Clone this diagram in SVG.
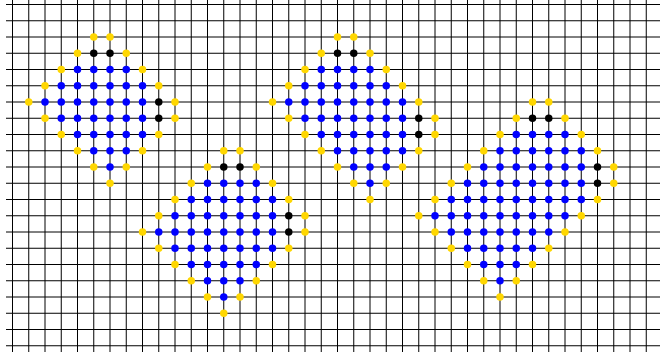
<svg xmlns="http://www.w3.org/2000/svg" width="660" height="357" viewBox="0 0 660 357">
<style>
.grid{fill:none;stroke:#000;stroke-width:1}
.y{fill:#FFD700}
.b{fill:#0000FF}
.k{fill:#000000}
</style>
<rect width="660" height="357" fill="#fff"/>
<g id="grid">
<path class="grid" d="M12.5 -2V352M28.75 -2V352M45 -2V352M61.25 -2V352M77.5 -2V352M93.75 -2V352M110 -2V352M126.25 -2V352M142.5 -2V352M158.75 -2V352M175 -2V352M191.25 -2V352M207.5 -2V352M223.75 -2V352M240 -2V352M256.25 -2V352M272.5 -2V352M288.75 -2V352M305 -2V352M321.25 -2V352M337.5 -2V352M353.75 -2V352M370 -2V352M386.25 -2V352M402.5 -2V352M418.75 -2V352M435 -2V352M451.25 -2V352M467.5 -2V352M483.75 -2V352M500 -2V352M516.25 -2V352M532.5 -2V352M548.75 -2V352M565 -2V352M581.25 -2V352M597.5 -2V352M613.75 -2V352M630 -2V352M646.25 -2V352"/>
<path class="grid" d="M6 4.5H660M6 20.75H660M6 37H660M6 53.25H660M6 69.5H660M6 85.75H660M6 102H660M6 118.25H660M6 134.5H660M6 150.75H660M6 167H660M6 183.25H660M6 199.5H660M6 215.75H660M6 232H660M6 248.25H660M6 264.5H660M6 280.75H660M6 297H660M6 313.25H660M6 329.5H660M6 345.75H660"/>
</g>
<g id="cluster1">
<circle class="y" cx="93.75" cy="37" r="3.75"/><circle class="y" cx="110" cy="37" r="3.75"/>
<circle class="y" cx="77.5" cy="53.25" r="3.75"/><circle class="k" cx="93.75" cy="53.25" r="3.75"/><circle class="k" cx="110" cy="53.25" r="3.75"/><circle class="y" cx="126.25" cy="53.25" r="3.75"/>
<circle class="y" cx="61.25" cy="69.5" r="3.75"/><circle class="b" cx="77.5" cy="69.5" r="3.75"/><circle class="b" cx="93.75" cy="69.5" r="3.75"/><circle class="b" cx="110" cy="69.5" r="3.75"/><circle class="b" cx="126.25" cy="69.5" r="3.75"/><circle class="y" cx="142.5" cy="69.5" r="3.75"/>
<circle class="y" cx="45" cy="85.75" r="3.75"/><circle class="b" cx="61.25" cy="85.75" r="3.75"/><circle class="b" cx="77.5" cy="85.75" r="3.75"/><circle class="b" cx="93.75" cy="85.75" r="3.75"/><circle class="b" cx="110" cy="85.75" r="3.75"/><circle class="b" cx="126.25" cy="85.75" r="3.75"/><circle class="b" cx="142.5" cy="85.75" r="3.75"/><circle class="y" cx="158.75" cy="85.75" r="3.75"/>
<circle class="y" cx="28.75" cy="102" r="3.75"/><circle class="b" cx="45" cy="102" r="3.75"/><circle class="b" cx="61.25" cy="102" r="3.75"/><circle class="b" cx="77.5" cy="102" r="3.75"/><circle class="b" cx="93.75" cy="102" r="3.75"/><circle class="b" cx="110" cy="102" r="3.75"/><circle class="b" cx="126.25" cy="102" r="3.75"/><circle class="b" cx="142.5" cy="102" r="3.75"/><circle class="k" cx="158.75" cy="102" r="3.75"/><circle class="y" cx="175" cy="102" r="3.75"/>
<circle class="y" cx="45" cy="118.25" r="3.75"/><circle class="b" cx="61.25" cy="118.25" r="3.75"/><circle class="b" cx="77.5" cy="118.25" r="3.75"/><circle class="b" cx="93.75" cy="118.25" r="3.75"/><circle class="b" cx="110" cy="118.25" r="3.75"/><circle class="b" cx="126.25" cy="118.25" r="3.75"/><circle class="b" cx="142.5" cy="118.25" r="3.75"/><circle class="k" cx="158.75" cy="118.25" r="3.75"/><circle class="y" cx="175" cy="118.25" r="3.75"/>
<circle class="y" cx="61.25" cy="134.5" r="3.75"/><circle class="b" cx="77.5" cy="134.5" r="3.75"/><circle class="b" cx="93.75" cy="134.5" r="3.75"/><circle class="b" cx="110" cy="134.5" r="3.75"/><circle class="b" cx="126.25" cy="134.5" r="3.75"/><circle class="b" cx="142.5" cy="134.5" r="3.75"/><circle class="y" cx="158.75" cy="134.5" r="3.75"/>
<circle class="y" cx="77.5" cy="150.75" r="3.75"/><circle class="b" cx="93.75" cy="150.75" r="3.75"/><circle class="b" cx="110" cy="150.75" r="3.75"/><circle class="b" cx="126.25" cy="150.75" r="3.75"/><circle class="y" cx="142.5" cy="150.75" r="3.75"/>
<circle class="y" cx="93.75" cy="167" r="3.75"/><circle class="b" cx="110" cy="167" r="3.75"/><circle class="y" cx="126.25" cy="167" r="3.75"/>
<circle class="y" cx="110" cy="183.25" r="3.75"/>
</g>
<g id="cluster2">
<circle class="y" cx="223.75" cy="150.75" r="3.75"/><circle class="y" cx="240" cy="150.75" r="3.75"/>
<circle class="y" cx="207.5" cy="167" r="3.75"/><circle class="k" cx="223.75" cy="167" r="3.75"/><circle class="k" cx="240" cy="167" r="3.75"/><circle class="y" cx="256.25" cy="167" r="3.75"/>
<circle class="y" cx="191.25" cy="183.25" r="3.75"/><circle class="b" cx="207.5" cy="183.25" r="3.75"/><circle class="b" cx="223.75" cy="183.25" r="3.75"/><circle class="b" cx="240" cy="183.25" r="3.75"/><circle class="b" cx="256.25" cy="183.25" r="3.75"/><circle class="y" cx="272.5" cy="183.25" r="3.75"/>
<circle class="y" cx="175" cy="199.5" r="3.75"/><circle class="b" cx="191.25" cy="199.5" r="3.75"/><circle class="b" cx="207.5" cy="199.5" r="3.75"/><circle class="b" cx="223.75" cy="199.5" r="3.75"/><circle class="b" cx="240" cy="199.5" r="3.75"/><circle class="b" cx="256.25" cy="199.5" r="3.75"/><circle class="b" cx="272.5" cy="199.5" r="3.75"/><circle class="y" cx="288.75" cy="199.5" r="3.75"/>
<circle class="y" cx="158.75" cy="215.75" r="3.75"/><circle class="b" cx="175" cy="215.75" r="3.75"/><circle class="b" cx="191.25" cy="215.75" r="3.75"/><circle class="b" cx="207.5" cy="215.75" r="3.75"/><circle class="b" cx="223.75" cy="215.75" r="3.75"/><circle class="b" cx="240" cy="215.75" r="3.75"/><circle class="b" cx="256.25" cy="215.75" r="3.75"/><circle class="b" cx="272.5" cy="215.75" r="3.75"/><circle class="k" cx="288.75" cy="215.75" r="3.75"/><circle class="y" cx="305" cy="215.75" r="3.75"/>
<circle class="y" cx="142.5" cy="232" r="3.75"/><circle class="b" cx="158.75" cy="232" r="3.75"/><circle class="b" cx="175" cy="232" r="3.75"/><circle class="b" cx="191.25" cy="232" r="3.75"/><circle class="b" cx="207.5" cy="232" r="3.75"/><circle class="b" cx="223.75" cy="232" r="3.75"/><circle class="b" cx="240" cy="232" r="3.75"/><circle class="b" cx="256.25" cy="232" r="3.75"/><circle class="b" cx="272.5" cy="232" r="3.75"/><circle class="k" cx="288.75" cy="232" r="3.75"/><circle class="y" cx="305" cy="232" r="3.75"/>
<circle class="y" cx="158.75" cy="248.25" r="3.75"/><circle class="b" cx="175" cy="248.25" r="3.75"/><circle class="b" cx="191.25" cy="248.25" r="3.75"/><circle class="b" cx="207.5" cy="248.25" r="3.75"/><circle class="b" cx="223.75" cy="248.25" r="3.75"/><circle class="b" cx="240" cy="248.25" r="3.75"/><circle class="b" cx="256.25" cy="248.25" r="3.75"/><circle class="b" cx="272.5" cy="248.25" r="3.75"/><circle class="y" cx="288.75" cy="248.25" r="3.75"/>
<circle class="y" cx="175" cy="264.5" r="3.75"/><circle class="b" cx="191.25" cy="264.5" r="3.75"/><circle class="b" cx="207.5" cy="264.5" r="3.75"/><circle class="b" cx="223.75" cy="264.5" r="3.75"/><circle class="b" cx="240" cy="264.5" r="3.75"/><circle class="b" cx="256.25" cy="264.5" r="3.75"/><circle class="y" cx="272.5" cy="264.5" r="3.75"/>
<circle class="y" cx="191.25" cy="280.75" r="3.75"/><circle class="b" cx="207.5" cy="280.75" r="3.75"/><circle class="b" cx="223.75" cy="280.75" r="3.75"/><circle class="b" cx="240" cy="280.75" r="3.75"/><circle class="y" cx="256.25" cy="280.75" r="3.75"/>
<circle class="y" cx="207.5" cy="297" r="3.75"/><circle class="b" cx="223.75" cy="297" r="3.75"/><circle class="y" cx="240" cy="297" r="3.75"/>
<circle class="y" cx="223.75" cy="313.25" r="3.75"/>
</g>
<g id="cluster3">
<circle class="y" cx="337.5" cy="37" r="3.75"/><circle class="y" cx="353.75" cy="37" r="3.75"/>
<circle class="y" cx="321.25" cy="53.25" r="3.75"/><circle class="k" cx="337.5" cy="53.25" r="3.75"/><circle class="k" cx="353.75" cy="53.25" r="3.75"/><circle class="y" cx="370" cy="53.25" r="3.75"/>
<circle class="y" cx="305" cy="69.5" r="3.75"/><circle class="b" cx="321.25" cy="69.5" r="3.75"/><circle class="b" cx="337.5" cy="69.5" r="3.75"/><circle class="b" cx="353.75" cy="69.5" r="3.75"/><circle class="b" cx="370" cy="69.5" r="3.75"/><circle class="y" cx="386.25" cy="69.5" r="3.75"/>
<circle class="y" cx="288.75" cy="85.75" r="3.75"/><circle class="b" cx="305" cy="85.75" r="3.75"/><circle class="b" cx="321.25" cy="85.75" r="3.75"/><circle class="b" cx="337.5" cy="85.75" r="3.75"/><circle class="b" cx="353.75" cy="85.75" r="3.75"/><circle class="b" cx="370" cy="85.75" r="3.75"/><circle class="b" cx="386.25" cy="85.75" r="3.75"/><circle class="y" cx="402.5" cy="85.75" r="3.75"/>
<circle class="y" cx="272.5" cy="102" r="3.75"/><circle class="b" cx="288.75" cy="102" r="3.75"/><circle class="b" cx="305" cy="102" r="3.75"/><circle class="b" cx="321.25" cy="102" r="3.75"/><circle class="b" cx="337.5" cy="102" r="3.75"/><circle class="b" cx="353.75" cy="102" r="3.75"/><circle class="b" cx="370" cy="102" r="3.75"/><circle class="b" cx="386.25" cy="102" r="3.75"/><circle class="b" cx="402.5" cy="102" r="3.75"/><circle class="y" cx="418.75" cy="102" r="3.75"/>
<circle class="y" cx="288.75" cy="118.25" r="3.75"/><circle class="b" cx="305" cy="118.25" r="3.75"/><circle class="b" cx="321.25" cy="118.25" r="3.75"/><circle class="b" cx="337.5" cy="118.25" r="3.75"/><circle class="b" cx="353.75" cy="118.25" r="3.75"/><circle class="b" cx="370" cy="118.25" r="3.75"/><circle class="b" cx="386.25" cy="118.25" r="3.75"/><circle class="b" cx="402.5" cy="118.25" r="3.75"/><circle class="k" cx="418.75" cy="118.25" r="3.75"/><circle class="y" cx="435" cy="118.25" r="3.75"/>
<circle class="y" cx="305" cy="134.5" r="3.75"/><circle class="b" cx="321.25" cy="134.5" r="3.75"/><circle class="b" cx="337.5" cy="134.5" r="3.75"/><circle class="b" cx="353.75" cy="134.5" r="3.75"/><circle class="b" cx="370" cy="134.5" r="3.75"/><circle class="b" cx="386.25" cy="134.5" r="3.75"/><circle class="b" cx="402.5" cy="134.5" r="3.75"/><circle class="k" cx="418.75" cy="134.5" r="3.75"/><circle class="y" cx="435" cy="134.5" r="3.75"/>
<circle class="y" cx="321.25" cy="150.75" r="3.75"/><circle class="b" cx="337.5" cy="150.75" r="3.75"/><circle class="b" cx="353.75" cy="150.75" r="3.75"/><circle class="b" cx="370" cy="150.75" r="3.75"/><circle class="b" cx="386.25" cy="150.75" r="3.75"/><circle class="b" cx="402.5" cy="150.75" r="3.75"/><circle class="y" cx="418.75" cy="150.75" r="3.75"/>
<circle class="y" cx="337.5" cy="167" r="3.75"/><circle class="b" cx="353.75" cy="167" r="3.75"/><circle class="b" cx="370" cy="167" r="3.75"/><circle class="b" cx="386.25" cy="167" r="3.75"/><circle class="y" cx="402.5" cy="167" r="3.75"/>
<circle class="y" cx="353.75" cy="183.25" r="3.75"/><circle class="b" cx="370" cy="183.25" r="3.75"/><circle class="y" cx="386.25" cy="183.25" r="3.75"/>
<circle class="y" cx="370" cy="199.5" r="3.75"/>
</g>
<g id="cluster4">
<circle class="y" cx="532.5" cy="102" r="3.75"/><circle class="y" cx="548.75" cy="102" r="3.75"/>
<circle class="y" cx="516.25" cy="118.25" r="3.75"/><circle class="k" cx="532.5" cy="118.25" r="3.75"/><circle class="k" cx="548.75" cy="118.25" r="3.75"/><circle class="y" cx="565" cy="118.25" r="3.75"/>
<circle class="y" cx="500" cy="134.5" r="3.75"/><circle class="b" cx="516.25" cy="134.5" r="3.75"/><circle class="b" cx="532.5" cy="134.5" r="3.75"/><circle class="b" cx="548.75" cy="134.5" r="3.75"/><circle class="b" cx="565" cy="134.5" r="3.75"/><circle class="y" cx="581.25" cy="134.5" r="3.75"/>
<circle class="y" cx="483.75" cy="150.75" r="3.75"/><circle class="b" cx="500" cy="150.75" r="3.75"/><circle class="b" cx="516.25" cy="150.75" r="3.75"/><circle class="b" cx="532.5" cy="150.75" r="3.75"/><circle class="b" cx="548.75" cy="150.75" r="3.75"/><circle class="b" cx="565" cy="150.75" r="3.75"/><circle class="b" cx="581.25" cy="150.75" r="3.75"/><circle class="y" cx="597.5" cy="150.75" r="3.75"/>
<circle class="y" cx="467.5" cy="167" r="3.75"/><circle class="b" cx="483.75" cy="167" r="3.75"/><circle class="b" cx="500" cy="167" r="3.75"/><circle class="b" cx="516.25" cy="167" r="3.75"/><circle class="b" cx="532.5" cy="167" r="3.75"/><circle class="b" cx="548.75" cy="167" r="3.75"/><circle class="b" cx="565" cy="167" r="3.75"/><circle class="b" cx="581.25" cy="167" r="3.75"/><circle class="k" cx="597.5" cy="167" r="3.75"/><circle class="y" cx="613.75" cy="167" r="3.75"/>
<circle class="y" cx="451.25" cy="183.25" r="3.75"/><circle class="b" cx="467.5" cy="183.25" r="3.75"/><circle class="b" cx="483.75" cy="183.25" r="3.75"/><circle class="b" cx="500" cy="183.25" r="3.75"/><circle class="b" cx="516.25" cy="183.25" r="3.75"/><circle class="b" cx="532.5" cy="183.25" r="3.75"/><circle class="b" cx="548.75" cy="183.25" r="3.75"/><circle class="b" cx="565" cy="183.25" r="3.75"/><circle class="b" cx="581.25" cy="183.25" r="3.75"/><circle class="k" cx="597.5" cy="183.25" r="3.75"/><circle class="y" cx="613.75" cy="183.25" r="3.75"/>
<circle class="y" cx="435" cy="199.5" r="3.75"/><circle class="b" cx="451.25" cy="199.5" r="3.75"/><circle class="b" cx="467.5" cy="199.5" r="3.75"/><circle class="b" cx="483.75" cy="199.5" r="3.75"/><circle class="b" cx="500" cy="199.5" r="3.75"/><circle class="b" cx="516.25" cy="199.5" r="3.75"/><circle class="b" cx="532.5" cy="199.5" r="3.75"/><circle class="b" cx="548.75" cy="199.5" r="3.75"/><circle class="b" cx="565" cy="199.5" r="3.75"/><circle class="b" cx="581.25" cy="199.5" r="3.75"/><circle class="y" cx="597.5" cy="199.5" r="3.75"/>
<circle class="y" cx="418.75" cy="215.75" r="3.75"/><circle class="b" cx="435" cy="215.75" r="3.75"/><circle class="b" cx="451.25" cy="215.75" r="3.75"/><circle class="b" cx="467.5" cy="215.75" r="3.75"/><circle class="b" cx="483.75" cy="215.75" r="3.75"/><circle class="b" cx="500" cy="215.75" r="3.75"/><circle class="b" cx="516.25" cy="215.75" r="3.75"/><circle class="b" cx="532.5" cy="215.75" r="3.75"/><circle class="b" cx="548.75" cy="215.75" r="3.75"/><circle class="b" cx="565" cy="215.75" r="3.75"/><circle class="y" cx="581.25" cy="215.75" r="3.75"/>
<circle class="y" cx="435" cy="232" r="3.75"/><circle class="b" cx="451.25" cy="232" r="3.75"/><circle class="b" cx="467.5" cy="232" r="3.75"/><circle class="b" cx="483.75" cy="232" r="3.75"/><circle class="b" cx="500" cy="232" r="3.75"/><circle class="b" cx="516.25" cy="232" r="3.75"/><circle class="b" cx="532.5" cy="232" r="3.75"/><circle class="b" cx="548.75" cy="232" r="3.75"/><circle class="y" cx="565" cy="232" r="3.75"/>
<circle class="y" cx="451.25" cy="248.25" r="3.75"/><circle class="b" cx="467.5" cy="248.25" r="3.75"/><circle class="b" cx="483.75" cy="248.25" r="3.75"/><circle class="b" cx="500" cy="248.25" r="3.75"/><circle class="b" cx="516.25" cy="248.25" r="3.75"/><circle class="b" cx="532.5" cy="248.25" r="3.75"/><circle class="y" cx="548.75" cy="248.25" r="3.75"/>
<circle class="y" cx="467.5" cy="264.5" r="3.75"/><circle class="b" cx="483.75" cy="264.5" r="3.75"/><circle class="b" cx="500" cy="264.5" r="3.75"/><circle class="b" cx="516.25" cy="264.5" r="3.75"/><circle class="y" cx="532.5" cy="264.5" r="3.75"/>
<circle class="y" cx="483.75" cy="280.75" r="3.75"/><circle class="b" cx="500" cy="280.75" r="3.75"/><circle class="y" cx="516.25" cy="280.75" r="3.75"/>
<circle class="y" cx="500" cy="297" r="3.75"/>
</g>
</svg>
